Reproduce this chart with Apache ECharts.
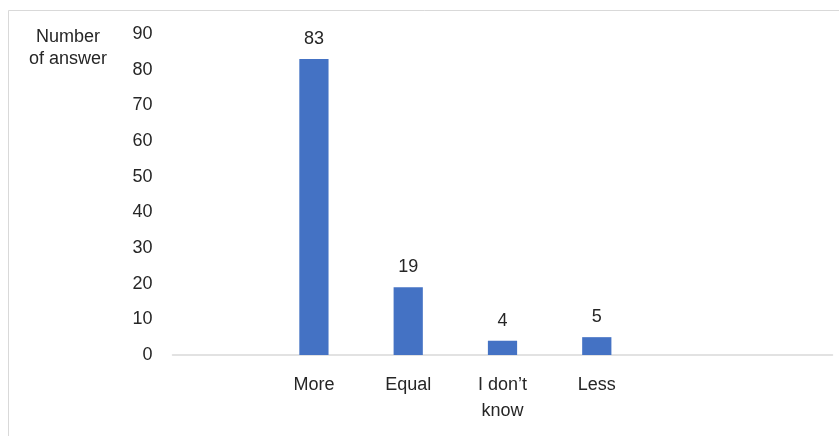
<!DOCTYPE html>
<html>
<head>
<meta charset="utf-8">
<script src="https://cdn.jsdelivr.net/npm/echarts@6/dist/echarts.min.js"></script>
<style>html,body{margin:0;padding:0;background:#fff}#c{width:839px;height:436px}</style>
</head>
<body>
<div id="c"></div>
<script>
var categories = ['', 'More', 'Equal', 'I don\u2019t\nknow', 'Less', '', ''];
var answers = [null, 83, 19, 4, 5, null, null];
var yTicks = { min: 0, max: 90, interval: 10 };
var yTitle = 'Number\nof answer';

var chart = echarts.init(document.getElementById('c'), null, { renderer: 'canvas' });
var font = 'Liberation Sans, Arial, Helvetica, sans-serif';
var fs = 18;
chart.setOption({
  animation: false,
  backgroundColor: '#fff',
  grid: { left: 172.5, right: 6.5, top: 34, bottom: 81, containLabel: false },
  graphic: [
    { type: 'rect', shape: { x: 8.5, y: 10.5, width: 900, height: 500 }, style: { fill: 'none', stroke: '#d9d9d9', lineWidth: 1 }, z: -1 },
    { type: 'text', x: 68, y: 26, style: { text: yTitle, font: fs + 'px ' + font, fill: '#262626', align: 'center', lineHeight: 22 } }
  ],
  xAxis: {
    type: 'category',
    data: categories,
    axisLine: { lineStyle: { color: '#d9d9d9', width: 1.5 } },
    axisTick: { show: false },
    axisLabel: { color: '#262626', fontSize: fs, fontFamily: font, margin: 16, lineHeight: 26, interval: 0, padding: [1, 0, 0, 0] }
  },
  yAxis: {
    type: 'value',
    min: yTicks.min, max: yTicks.max, interval: yTicks.interval,
    splitLine: { show: false },
    axisLine: { show: false },
    axisTick: { show: false },
    axisLabel: { color: '#262626', fontSize: fs, fontFamily: font, margin: 20, padding: [4, 0, 0, 0] }
  },
  series: [{
    type: 'bar',
    data: answers,
    barWidth: '31%',
    itemStyle: { color: '#4472c4' },
    label: { show: true, position: 'top', distance: 11, color: '#262626', fontSize: fs, fontFamily: font }
  }]
});
</script>
</body>
</html>
